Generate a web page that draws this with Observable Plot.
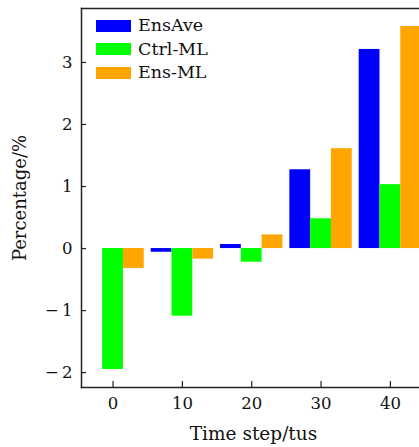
<!DOCTYPE html>
<html>
<head>
<meta charset="utf-8">
<script src="https://cdn.jsdelivr.net/npm/d3@7"></script>
<script src="https://cdn.jsdelivr.net/npm/@observablehq/plot@0.6"></script>
<style>
  html, body { margin: 0; padding: 0; background: #fff; overflow: hidden; }
  #wrap { position: relative; width: 419px; height: 447px; font-family: "DejaVu Serif", serif; }
  #legend { position: absolute; left: 96px; top: 14px; }
  .row { display: flex; align-items: center; height: 23.5px; }
  .sw { width: 35px; height: 12px; margin-right: 7px; }
  .lab { font-size: 17.5px; line-height: 1; color: #111; }
</style>
</head>
<body>
<div id="wrap"></div>
<script>
const steps = [0, 10, 20, 30, 40];
const series = ["EnsAve", "Ctrl-ML", "Ens-ML"];
const colors = ["#0000ff", "#00ff00", "#ffa500"];
const ensAve = [0, -0.06, 0.065, 1.27, 3.21];
const ctrlML = [-1.95, -1.09, -0.22, 0.48, 1.03];
const ensML = [-0.32, -0.17, 0.22, 1.61, 3.58];
const yTicks = [-2, -1, 0, 1, 2, 3];
const xTicks = [0, 10, 20, 30, 40];
const xLabel = "Time step/tus";
const yLabel = "Percentage/%";

const values = [ensAve, ctrlML, ensML];
const data = [];
series.forEach((s, i) => {
  steps.forEach((t, j) => {
    data.push({series: s, step: t, value: values[i][j], offset: (i - 1) * 3});
  });
});

const fmt = d => d < 0 ? "\u2212\u2009" + (-d) : String(d);
const axisColor = "#222";

const chart = Plot.plot({
  width: 419,
  height: 447,
  marginLeft: 81,
  marginRight: 0,
  marginTop: 8,
  marginBottom: 60,
  style: {fontFamily: "DejaVu Serif, serif", fontSize: "16.5px", color: "#111", background: "#fff"},
  x: {domain: [-4.55, 44.2]},
  y: {domain: [-2.24, 3.87]},
  color: {domain: series, range: colors},
  marks: [
    Plot.rectY(data, {
      x1: d => d.step + d.offset - 1.5,
      x2: d => d.step + d.offset + 1.5,
      y1: 0,
      y2: "value",
      fill: "series",
      clip: true
    }),
    Plot.axisY({ticks: yTicks, tickSize: 0, tickPadding: 9, tickFormat: fmt, label: null}),
    Plot.axisY({ticks: yTicks, tickSize: 5, dx: 5, text: null, stroke: axisColor, strokeWidth: 1.2, label: null}),
    Plot.axisX({ticks: xTicks, tickSize: 0, tickPadding: 10, tickFormat: fmt, label: null}),
    Plot.axisX({ticks: xTicks, tickSize: 6, dy: -6, text: null, stroke: axisColor, strokeWidth: 1.2, label: null}),
    Plot.frame({anchor: "left", stroke: axisColor, strokeWidth: 1.5}),
    Plot.frame({anchor: "top", stroke: axisColor, strokeWidth: 1.5}),
    Plot.frame({anchor: "bottom", stroke: axisColor, strokeWidth: 1.5}),
    Plot.text([xLabel], {text: d => d, frameAnchor: "bottom", textAnchor: "middle", dy: 52, dx: 3, lineAnchor: "bottom", fontSize: 18.5}),
    Plot.text([yLabel], {text: d => d, frameAnchor: "left", textAnchor: "middle", dx: -61, rotate: -90, lineAnchor: "middle", fontSize: 18})
  ]
});

const wrap = document.getElementById("wrap");
wrap.appendChild(chart);

const legend = document.createElement("div");
legend.id = "legend";
series.forEach((s, i) => {
  const row = document.createElement("div");
  row.className = "row";
  const sw = document.createElement("div");
  sw.className = "sw";
  sw.style.background = colors[i];
  const lab = document.createElement("span");
  lab.className = "lab";
  lab.textContent = s;
  row.appendChild(sw);
  row.appendChild(lab);
  legend.appendChild(row);
});
wrap.appendChild(legend);
</script>
</body>
</html>
